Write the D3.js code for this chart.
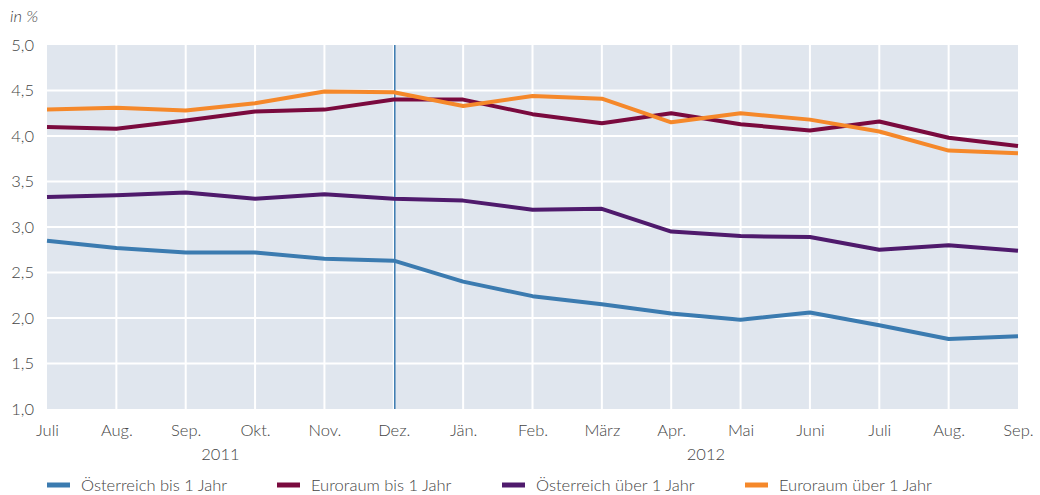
<!DOCTYPE html>
<html><head><meta charset="utf-8">
<script src="https://cdn.jsdelivr.net/npm/d3@7"></script>
<style>
body{margin:0;background:#fff;}
text{font-family:Lato,"Open Sans",sans-serif;font-weight:300;fill:#444;}
</style></head>
<body><svg id="c" width="1040" height="495"></svg>
<script>
const months = ["Juli","Aug.","Sep.","Okt.","Nov.","Dez.","Jän.","Feb.","März","Apr.","Mai","Juni","Juli","Aug.","Sep."];
const yTicks = [1.0,1.5,2.0,2.5,3.0,3.5,4.0,4.5,5.0];
const years = [{label:"2011", at:2.5},{label:"2012", at:9.5}];
const seriesNames = ["Österreich bis 1 Jahr","Euroraum bis 1 Jahr","Österreich über 1 Jahr","Euroraum über 1 Jahr"];
const atShort = [2.85,2.77,2.72,2.72,2.65,2.63,2.40,2.24,2.15,2.05,1.98,2.06,1.92,1.77,1.80];
const euShort = [4.10,4.08,4.17,4.27,4.29,4.40,4.40,4.24,4.14,4.25,4.13,4.06,4.16,3.98,3.89];
const atLong  = [3.33,3.35,3.38,3.31,3.36,3.31,3.29,3.19,3.20,2.95,2.90,2.89,2.75,2.80,2.74];
const euLong  = [4.29,4.31,4.28,4.36,4.49,4.48,4.33,4.44,4.41,4.15,4.25,4.18,4.05,3.84,3.81];
const colors = ["#3b7bb0","#7a0a3e","#4f1a6c","#f5882a"];
const markerIndex = 5;

const svg = d3.select("#c");
const L=47,R=1018,T=45,B=409;
const FS="16.5px";
const x = d3.scaleLinear().domain([0,months.length-1]).range([L,R]);
const y = d3.scaleLinear().domain([1,5]).range([B,T]);

svg.append("rect").attr("x",L).attr("y",T).attr("width",R-L).attr("height",B-T).attr("fill","#e0e6ee");
// grid
svg.append("g").selectAll("line").data(yTicks.slice(1,-1)).join("line")
  .attr("x1",L).attr("x2",R).attr("y1",d=>y(d)).attr("y2",d=>y(d)).attr("stroke","#fff").attr("stroke-width",2);
svg.append("g").selectAll("line").data(d3.range(1,months.length-1)).join("line")
  .attr("x1",d=>x(d)).attr("x2",d=>x(d)).attr("y1",T).attr("y2",B).attr("stroke","#fff").attr("stroke-width",2);
// marker line
svg.append("line").attr("x1",x(markerIndex)+1).attr("x2",x(markerIndex)+1).attr("y1",T).attr("y2",B).attr("stroke","#3b7bb0").attr("stroke-width",1.5);

// y axis labels
const yAxis = d3.axisLeft(y).tickValues(yTicks).tickSize(0).tickPadding(13).tickFormat(d=>d3.format(".1f")(d).replace(".",","));
const gy = svg.append("g").attr("transform",`translate(${L},0)`).call(yAxis);
gy.select(".domain").remove();
gy.selectAll("text").style("font-size",FS).style("font-family","Lato,sans-serif").attr("fill","#444");

const xAxis = d3.axisBottom(x).tickValues(d3.range(months.length)).tickSize(0).tickPadding(15).tickFormat(i=>months[i]);
const gx = svg.append("g").attr("transform",`translate(0,${B})`).call(xAxis);
gx.select(".domain").remove();
gx.selectAll("text").style("font-size",FS).style("font-family","Lato,sans-serif").attr("fill","#444");

svg.append("g").selectAll("text").data(years).join("text")
  .attr("x",d=>x(d.at)).attr("y",460).attr("text-anchor","middle").style("font-size",FS).text(d=>d.label);

svg.append("text").attr("x",10).attr("y",22).style("font-size",FS).style("font-style","italic").text("in %");

// lines
const data=[atShort,euShort,atLong,euLong];
const line = d3.line().x((d,i)=>x(i)).y(d=>y(d));
svg.append("g").selectAll("path").data(data).join("path")
  .attr("d",line).attr("fill","none").attr("stroke",(d,i)=>colors[i]).attr("stroke-width",4).attr("stroke-linejoin","round");

// legend
const legX=[47,277,502,745];
const lg = svg.append("g").selectAll("g").data(seriesNames).join("g").attr("transform",(d,i)=>`translate(${legX[i]},485)`);
lg.append("line").attr("x1",0).attr("x2",23).attr("y1",0).attr("y2",0).attr("stroke",(d,i)=>colors[i]).attr("stroke-width",5);
lg.append("text").attr("x",34).attr("y",6).style("font-size",FS).text(d=>d);
</script></body></html>
